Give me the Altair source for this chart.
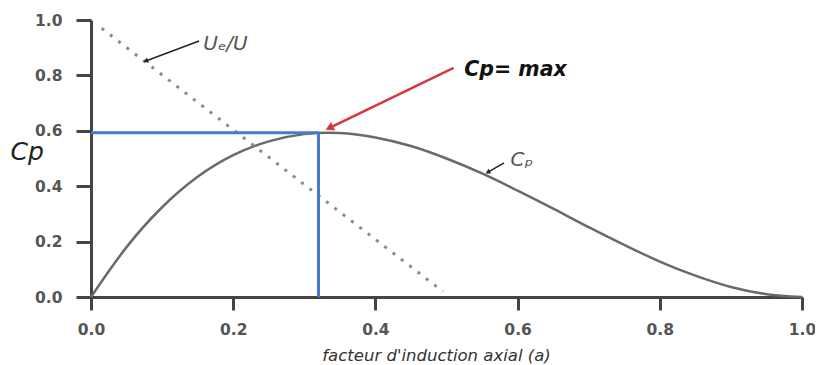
import altair as alt
import pandas as pd

# Cp curve
a_vals = [0.0, 0.025, 0.05, 0.10, 0.15, 0.20, 0.25, 0.30, 0.333, 0.35, 0.40, 0.45, 0.50,
          0.55, 0.60, 0.65, 0.70, 0.75, 0.80, 0.85, 0.90, 0.95, 1.0]
cp_vals = [0.0, 0.093, 0.180, 0.324, 0.434, 0.512, 0.562, 0.588, 0.593, 0.592, 0.576, 0.545, 0.50,
           0.446, 0.384, 0.319, 0.252, 0.188, 0.128, 0.077, 0.036, 0.010, 0.0]

# Ue/U dotted line endpoints
ue_a = [0.015, 0.495]
ue_v = [0.97, 0.02]

# Optimum
a_opt = 0.32
cp_opt = 0.593

# Annotation anchors (data units)
red_arrow_a = [0.51, 0.337]
red_arrow_v = [0.827, 0.612]
ue_arrow_a = [0.152, 0.078]
ue_arrow_v = [0.924, 0.853]
cp_arrow_a = [0.581, 0.559]
cp_arrow_v = [0.484, 0.452]

labels_txt = ["Cp= max", "Uₑ/U", "Cₚ"]
labels_a = [0.525, 0.158, 0.59]
labels_v = [0.82, 0.915, 0.495]

tick_vals = [0.0, 0.2, 0.4, 0.6, 0.8, 1.0]

xs = alt.Scale(domain=[0, 1], nice=False)
ys = alt.Scale(domain=[0, 1], nice=False)

axis_common = dict(
    values=tick_vals, format=".1f", grid=False, labelFlush=False,
    domainColor="#444", domainWidth=3, tickColor="#444", tickWidth=3,
    labelFont="DejaVu Sans", labelFontWeight="bold", labelFontSize=15.5,
    labelColor="#555",
)

curve_df = pd.DataFrame({"a": a_vals, "cp": cp_vals})
base = alt.Chart(curve_df)

curve = base.mark_line(color="#6a6a6a", strokeWidth=2.5, interpolate="monotone").encode(
    x=alt.X("a:Q", scale=xs, axis=alt.Axis(
        title="facteur d'induction axial (a)", tickSize=13, labelPadding=12,
        titleFont="DejaVu Sans", titleFontStyle="italic", titleFontWeight="normal",
        titleFontSize=16.5, titleColor="#333", titleX=345, titleY=50,
        titleBaseline="top", titleAlign="center",
        **axis_common)),
    y=alt.Y("cp:Q", scale=ys, axis=alt.Axis(
        title="Cp", tickSize=15, labelPadding=14, titleAngle=0,
        titleAlign="left", titleBaseline="alphabetic", titleX=-81, titleY=139,
        titleFont="DejaVu Sans", titleFontStyle="italic", titleFontWeight="normal",
        titleFontSize=25, titleColor="#222",
        **axis_common)),
)

ue_df = pd.DataFrame({"a": ue_a, "cp": ue_v})
ue_line = alt.Chart(ue_df).mark_line(color="#8a8a8a", strokeWidth=3, strokeDash=[3, 7.5]).encode(
    x=alt.X("a:Q", scale=xs), y=alt.Y("cp:Q", scale=ys))

blue_df = pd.DataFrame({"a": [0.0, a_opt], "a2": [a_opt, a_opt], "cp": [cp_opt, 0.0], "cp2": [cp_opt, cp_opt]})
blue = alt.Chart(blue_df).mark_rule(color="#4a78d0", strokeWidth=3).encode(
    x=alt.X("a:Q", scale=xs), x2="a2:Q", y=alt.Y("cp:Q", scale=ys), y2="cp2:Q")

def arrow(av, vv, color, width, head_size, angle):
    df = pd.DataFrame({"a": [av[0]], "a2": [av[1]], "cp": [vv[0]], "cp2": [vv[1]]})
    line = alt.Chart(df).mark_rule(color=color, strokeWidth=width).encode(
        x=alt.X("a:Q", scale=xs), x2="a2:Q", y=alt.Y("cp:Q", scale=ys), y2="cp2:Q")
    head = alt.Chart(df).mark_point(shape="triangle", filled=True, color=color, size=head_size,
                                    angle=angle, opacity=1).encode(
        x=alt.X("a2:Q", scale=xs), y=alt.Y("cp2:Q", scale=ys))
    return line + head

red = arrow(red_arrow_a, red_arrow_v, "#d9363e", 2.5, 90, 245)
ue_arr = arrow(ue_arrow_a, ue_arrow_v, "#222", 1.5, 30, 249)
cp_arr = arrow(cp_arrow_a, cp_arrow_v, "#222", 1.5, 30, 240)

lab_df = pd.DataFrame({"t": labels_txt, "a": labels_a, "cp": labels_v})
lab_max = alt.Chart(lab_df.iloc[[0]]).mark_text(
    align="left", baseline="middle", font="DejaVu Sans", fontWeight="bold",
    fontStyle="italic", fontSize=20.5, color="#111").encode(
    x=alt.X("a:Q", scale=xs), y=alt.Y("cp:Q", scale=ys), text="t:N")
lab_other = alt.Chart(lab_df.iloc[[1, 2]]).mark_text(
    align="left", baseline="middle", font="DejaVu Sans", fontStyle="italic",
    fontSize=20, color="#555").encode(
    x=alt.X("a:Q", scale=xs), y=alt.Y("cp:Q", scale=ys), text="t:N")

chart = alt.layer(curve, ue_line, blue, red, ue_arr, cp_arr, lab_max, lab_other).properties(
    width=711, height=277,
    autosize=alt.AutoSizeParams(type="none"),
    padding={"left": 83, "top": 12, "right": 13, "bottom": 67},
).configure(background="white").configure_view(strokeWidth=0, stroke="transparent")

chart.save("out.html", embed_options={"renderer": "svg", "actions": False})
